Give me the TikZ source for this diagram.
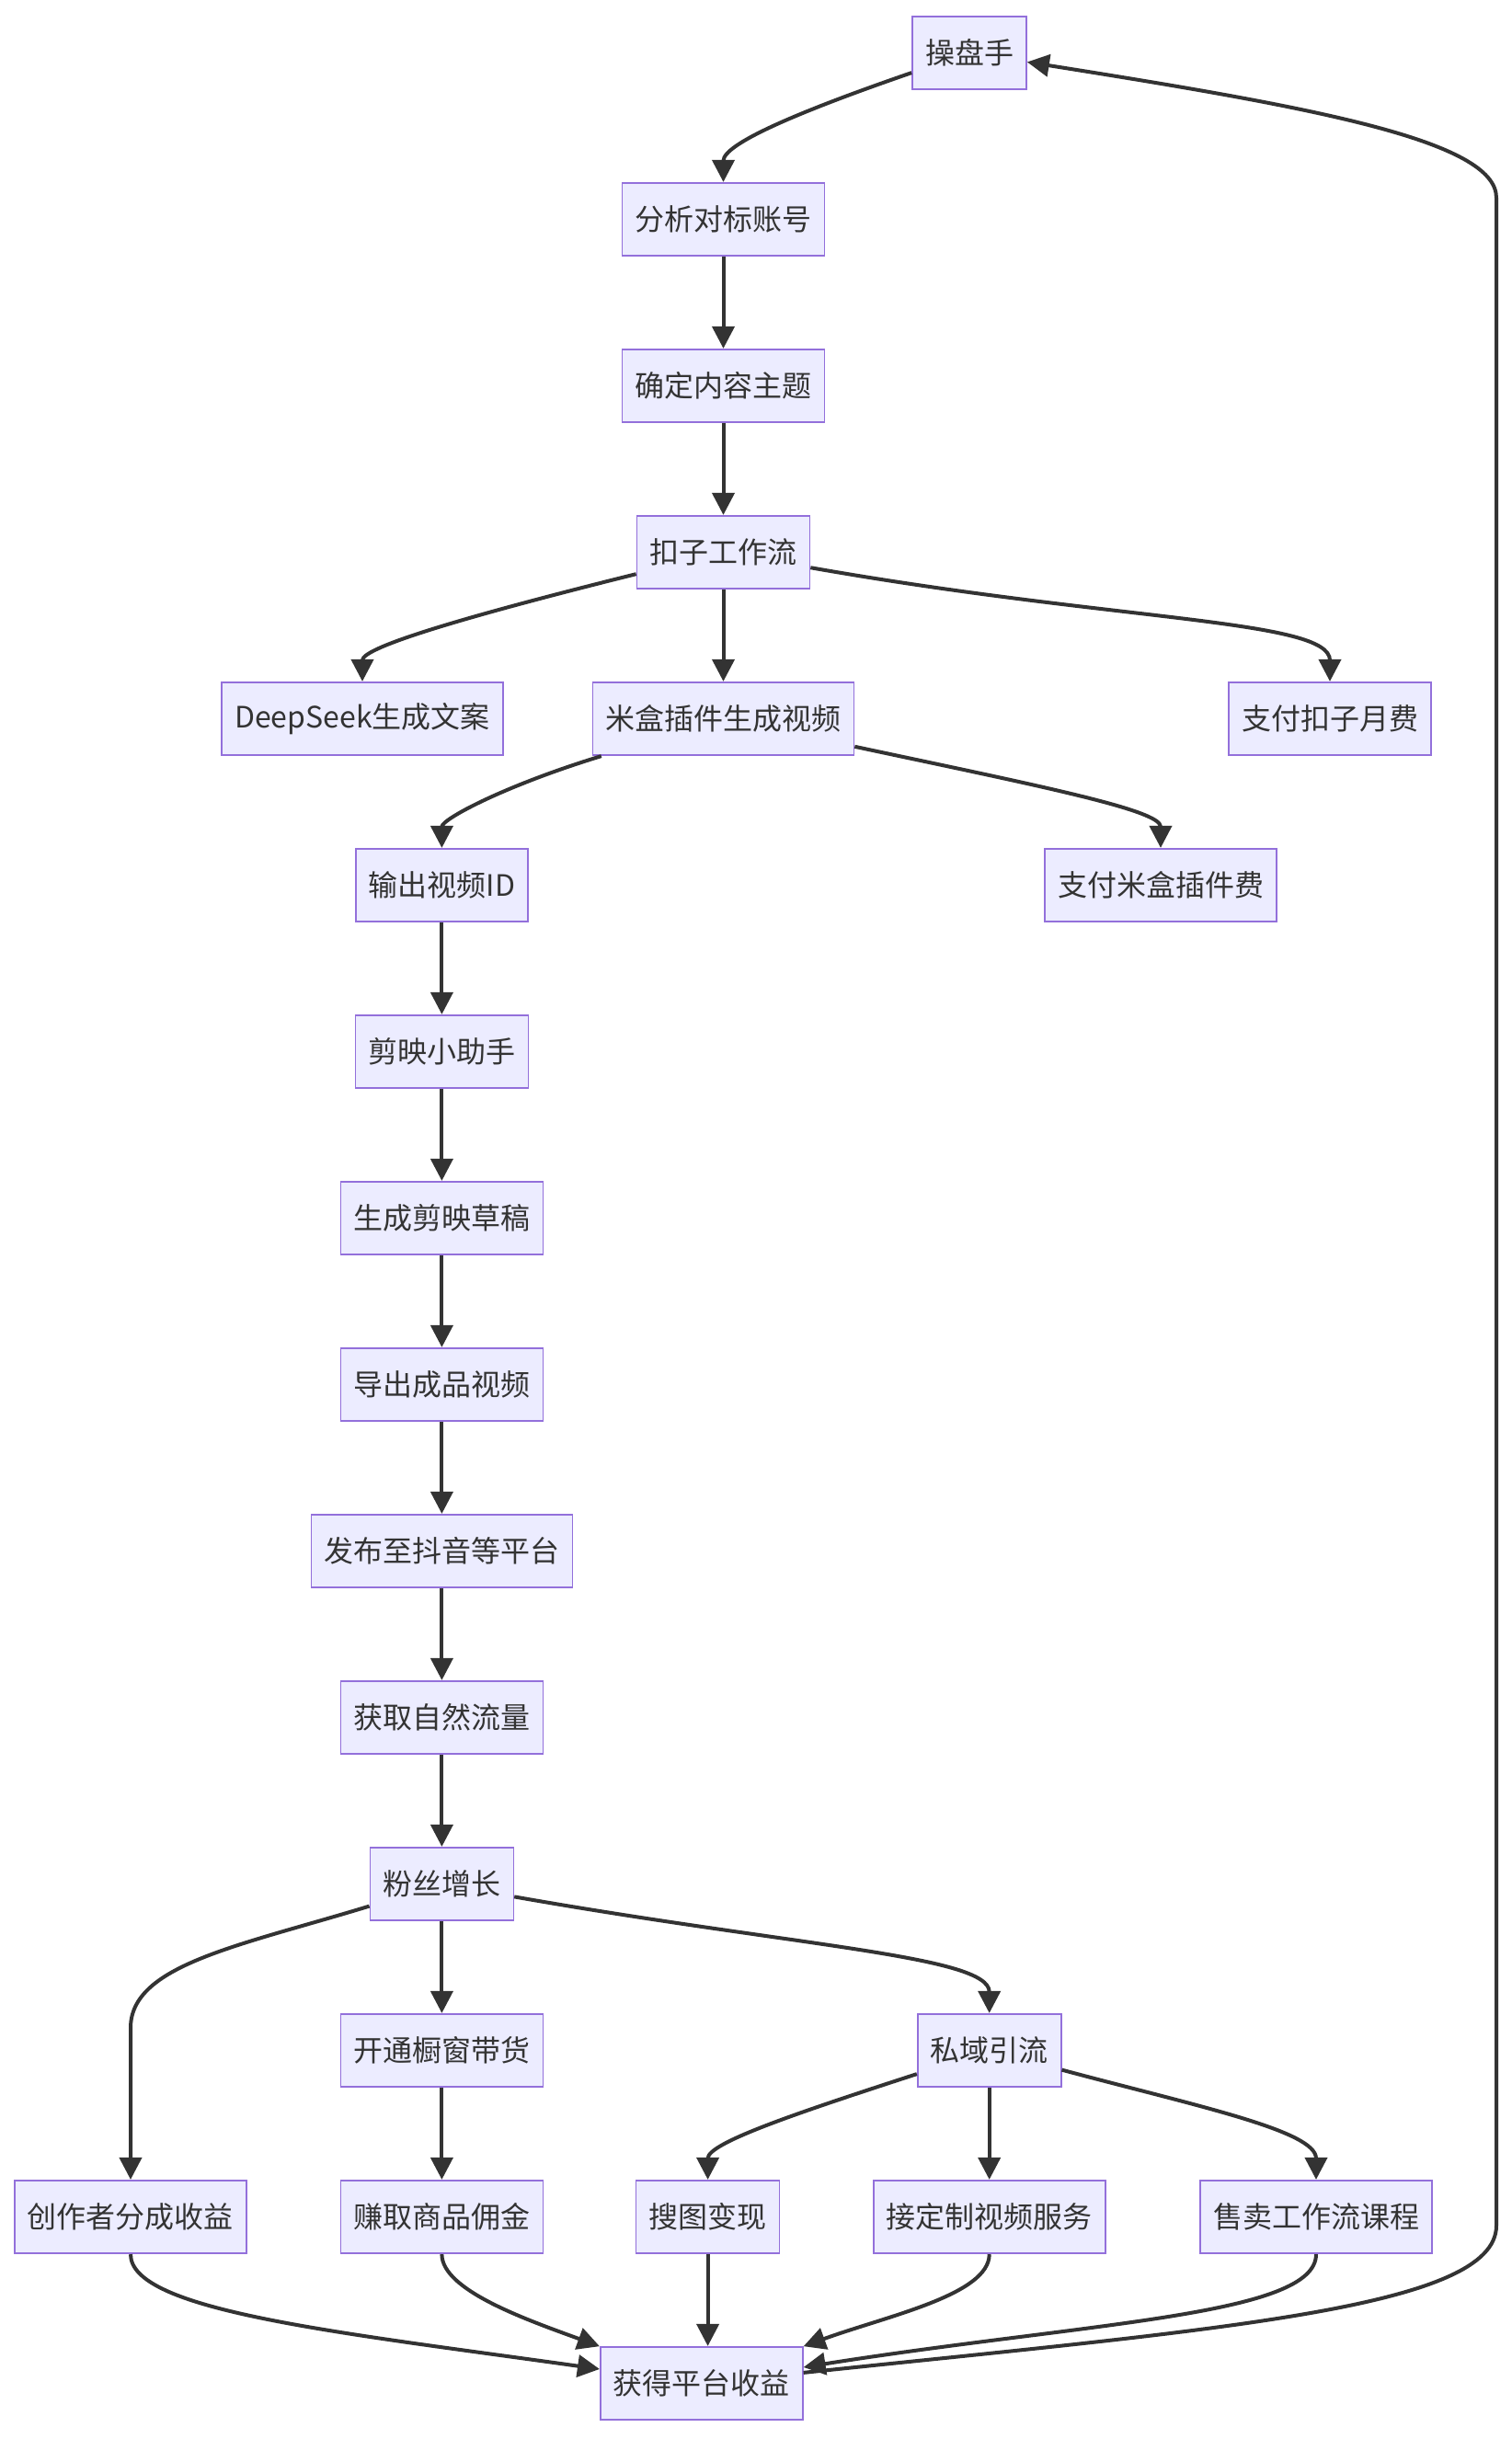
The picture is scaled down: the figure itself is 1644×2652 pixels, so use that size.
\documentclass[tikz,border=0pt]{standalone}
\usepackage{fontspec}
\setmainfont{Noto Sans CJK SC}
\usetikzlibrary{arrows.meta}
\definecolor{nodefill}{HTML}{ECECFF}
\definecolor{nodeline}{HTML}{9370DB}
\definecolor{edgeline}{HTML}{333333}
\begin{document}
\begin{tikzpicture}[x=0.5pt,y=-0.5pt,
  box/.style={draw=nodeline, fill=nodefill, line width=0.85pt, minimum height=39.75pt,
    inner xsep=7pt, inner ysep=0pt, font=\fontsize{16}{19}\selectfont, text=edgeline},
  edge/.style={draw=edgeline, line width=2pt, -{Triangle[length=12pt,width=12pt]}},
  fanout/.style={out looseness=1.5, in looseness=0.3},
  fanin/.style={out looseness=0.3, in looseness=1.4}]
\fill[white] (0,0) rectangle (1644,2652);
\useasboundingbox (0,0) rectangle (1644,2652);
\node[box] (A) at (1054,57.5) {操盘手};
\node[box] (B) at (786.5,238.5) {分析对标账号};
\node[box] (C) at (786.5,419.5) {确定内容主题};
\node[box] (D) at (786.5,600.5) {扣子工作流};
\node[box] (E) at (394,781.5) {DeepSeek生成文案};
\node[box] (F) at (786.5,781.5) {米盒插件生成视频};
\node[box] (G) at (1446,781.5) {支付扣子月费};
\node[box] (H) at (480.4,962.5) {输出视频ID};
\node[box] (I) at (1262,962.5) {支付米盒插件费};
\node[box] (J) at (480.4,1143.5) {剪映小助手};
\node[box] (K) at (480.4,1324.5) {生成剪映草稿};
\node[box] (L) at (480.4,1505.5) {导出成品视频};
\node[box] (M) at (480.4,1686.5) {发布至抖音等平台};
\node[box] (N) at (480.4,1867.5) {获取自然流量};
\node[box] (O) at (480.4,2048.5) {粉丝增长};
\node[box] (P) at (480.4,2229.5) {开通橱窗带货};
\node[box] (Q) at (1075.7,2229.5) {私域引流};
\node[box] (R) at (142,2410.5) {创作者分成收益};
\node[box] (S) at (480.4,2410.5) {赚取商品佣金};
\node[box] (T) at (769.6,2410.5) {搜图变现};
\node[box] (U) at (1075.7,2410.5) {接定制视频服务};
\node[box] (V) at (1431,2410.5) {售卖工作流课程};
\node[box] (W) at (762.8,2591.5) {获得平台收益};
\coordinate (rc) at (142,2205);
\coordinate (lb) at (1627,2420);
\coordinate (lt) at (1627,215);

\draw[edge] (A) to[out=199,in=90,out looseness=1.4,in looseness=0.45] (B);
\draw[edge] (B) -- (C);
\draw[edge] (C) -- (D);
\draw[edge] (D) to[out=194,in=90,fanout] (E);
\draw[edge] (D) -- (F);
\draw[edge] (D) to[out=-10,in=90,fanout] (G);
\draw[edge] (F) to[out=197,in=90,out looseness=1.4,in looseness=0.4] (H);
\draw[edge] (F) to[out=-12,in=90,fanout] (I);
\draw[edge] (H) -- (J);
\draw[edge] (J) -- (K);
\draw[edge] (K) -- (L);
\draw[edge] (L) -- (M);
\draw[edge] (M) -- (N);
\draw[edge] (N) -- (O);
\draw[edge] (O) to[out=197,in=90,out looseness=1.3,in looseness=0.6] (rc) -- (R);
\draw[edge] (O) -- (P);
\draw[edge] (O) to[out=-10,in=90,fanout] (Q);
\draw[edge] (P) -- (S);
\draw[edge] (Q) to[out=198,in=90,out looseness=1.4,in looseness=0.4] (T);
\draw[edge] (Q) -- (U);
\draw[edge] (Q) to[out=-15,in=90,out looseness=1.3,in looseness=0.45] (V);
\draw[edge] (R) to[out=-90,in=172,fanin] (W);
\draw[edge] (S) to[out=-90,in=160,out looseness=0.5,in looseness=1.1] (W);
\draw[edge] (T.south) -- (W.north -| T.south);
\draw[edge] (U) to[out=-90,in=20,out looseness=0.5,in looseness=1.1] (W);
\draw[edge] (V) to[out=-90,in=9,fanin] (W);
\draw[edge] (W) to[out=6,in=-90,out looseness=1.5,in looseness=0.3] (lb) -- (lt) to[out=90,in=-9,out looseness=0.3,in looseness=1.5] (A);
\end{tikzpicture}
\end{document}
